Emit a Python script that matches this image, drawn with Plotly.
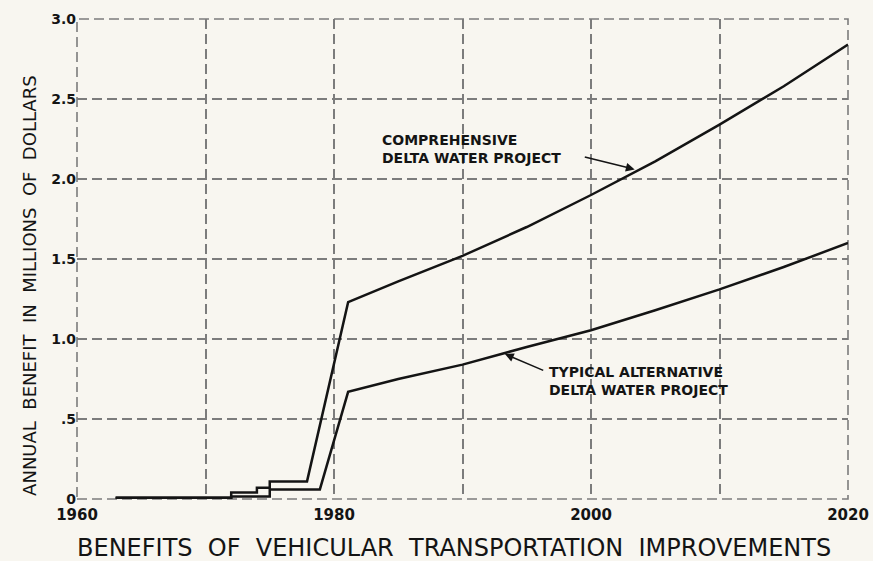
import plotly.graph_objects as go

# Annual benefit, millions of dollars
comp_years = [1963, 1972, 1972, 1974, 1974, 1975, 1975, 1977.9, 1981.1,
              1985, 1990, 1995, 2000, 2005, 2010, 2015, 2020]
comp_values = [0.01, 0.01, 0.04, 0.04, 0.07, 0.07, 0.11, 0.11, 1.23,
               1.36, 1.52, 1.70, 1.90, 2.11, 2.34, 2.58, 2.84]

typ_years = [1963, 1972, 1972, 1975, 1975, 1978.9, 1981.1,
             1985, 1990, 1995, 2000, 2005, 2010, 2015, 2020]
typ_values = [0.005, 0.005, 0.015, 0.015, 0.06, 0.06, 0.67,
              0.75, 0.84, 0.95, 1.055, 1.18, 1.31, 1.45, 1.60]

x_grid = [1960, 1970, 1980, 1990, 2000, 2010, 2020]
x_labels = ["1960", "", "1980", "", "2000", "", "2020"]
y_grid = [0, 0.5, 1.0, 1.5, 2.0, 2.5, 3.0]
y_labels = ["0", ".5", "1.0", "1.5", "2.0", "2.5", "3.0"]

paper = "#f8f6f0"
ink = "#141414"
grid = "#7c7c7c"
font = "DejaVu Sans"
dash = "10px,5px"

fig = go.Figure()
fig.add_trace(go.Scatter(x=comp_years, y=comp_values, mode="lines",
                         line=dict(color=ink, width=2.5), showlegend=False))
fig.add_trace(go.Scatter(x=typ_years, y=typ_values, mode="lines",
                         line=dict(color=ink, width=2.5), showlegend=False))

# dashed frame around the plotting area
fig.add_shape(type="rect", xref="paper", yref="paper", x0=0, y0=0, x1=1, y1=1,
              line=dict(color=grid, width=1.6, dash=dash), layer="below")


def label(x, y, text):
    fig.add_annotation(x=x, y=y, xref="x", yref="y", xanchor="left",
                       yanchor="middle", align="left", showarrow=False,
                       text=text,
                       font=dict(family=font, size=14, color=ink, weight="bold"))


# callouts
label(1983.6, 2.19, "COMPREHENSIVE<br>DELTA WATER PROJECT")
fig.add_annotation(x=2003.4, y=2.06, ax=1999.4, ay=2.14, axref="x", ayref="y",
                   xref="x", yref="y", text="", showarrow=True,
                   arrowhead=2, arrowsize=1.1, arrowwidth=1.6, arrowcolor=ink)
label(1996.55, 0.739, "TYPICAL ALTERNATIVE<br>DELTA WATER PROJECT")
fig.add_annotation(x=1993.3, y=0.906, ax=1996.4, ay=0.80, axref="x", ayref="y",
                   xref="x", yref="y", text="", showarrow=True,
                   arrowhead=2, arrowsize=1.1, arrowwidth=1.6, arrowcolor=ink)

# axis caption and chart heading
fig.add_annotation(x=-0.061, y=0.446, xref="paper", yref="paper",
                   xanchor="center", yanchor="middle", textangle=-90,
                   showarrow=False,
                   text="ANNUAL  BENEFIT  IN  MILLIONS  OF  DOLLARS",
                   font=dict(family=font, size=18, color=ink))
fig.add_annotation(x=0.489, y=-0.102, xref="paper", yref="paper",
                   xanchor="center", yanchor="middle", showarrow=False,
                   text="BENEFITS  OF  VEHICULAR  TRANSPORTATION  IMPROVEMENTS",
                   font=dict(family=font, size=24, color=ink))

fig.update_layout(
    width=873, height=561,
    margin=dict(l=77, r=25, t=19, b=62),
    paper_bgcolor=paper, plot_bgcolor=paper,
    font=dict(family=font, color=ink),
)
fig.update_xaxes(range=[1960, 2020], tickvals=x_grid, ticktext=x_labels,
                 automargin=False, ticklabelstandoff=5,
                 showgrid=True, gridcolor=grid, gridwidth=1.6, griddash=dash,
                 zeroline=False, showline=False, ticks="",
                 tickfont=dict(family=font, size=15, color=ink, weight="bold"))
fig.update_yaxes(range=[0, 3.0], tickvals=y_grid, ticktext=y_labels,
                 automargin=False,
                 showgrid=True, gridcolor=grid, gridwidth=1.6, griddash=dash,
                 zeroline=False, showline=False, ticks="",
                 tickfont=dict(family=font, size=14, color=ink, weight="bold"))

fig.write_html("out.html")
